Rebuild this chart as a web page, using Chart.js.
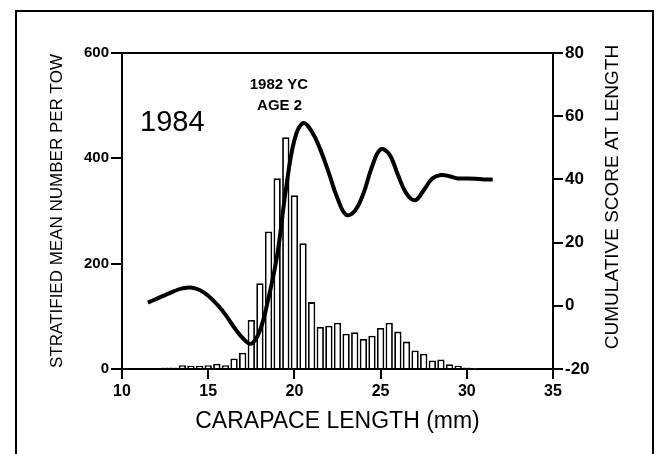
<!DOCTYPE html>
<html><head><meta charset="utf-8">
<script src="https://cdn.jsdelivr.net/npm/chart.js@4/dist/chart.umd.min.js"></script>
<style>html,body{margin:0;padding:0;background:#fff;}#wrap{width:657px;height:454px;}</style>
</head><body><div id="wrap"><canvas id="c" width="657" height="454"></canvas></div>
<script>
// Histogram: carapace length bins (mm) and stratified mean number per tow
const barLengths = [12.0,12.5,13.0,13.5,14.0,14.5,15.0,15.5,16.0,16.5,17.0,17.5,18.0,18.5,19.0,19.5,20.0,20.5,21.0,21.5,22.0,22.5,23.0,23.5,24.0,24.5,25.0,25.5,26.0,26.5,27.0,27.5,28.0,28.5,29.0,29.5,30.0,30.5];
const barCounts  = [2,3,3,7,6,6,7,10,7,20,31,93,163,261,362,440,330,239,127,80,82,88,67,70,57,63,78,88,71,52,35,29,16,18,9,6,3,1];
// Cumulative score at length curve
const curveLengths = [11.5,12.0,12.5,13.0,13.5,14.0,14.5,15.0,15.5,16.0,16.5,17.0,17.5,18.0,18.5,19.0,19.5,20.0,20.5,21.0,21.5,22.0,22.5,23.0,23.5,24.0,24.5,25.0,25.5,26.0,26.5,27.0,27.5,28.0,28.5,29.0,29.5,30.0,30.5,31.0,31.5];
const curveScores  = [1,2.2,3.4,4.6,5.5,5.8,5.0,3.2,0.5,-2.8,-6.8,-10.2,-12,-7.8,2.5,16,36.5,52.5,57.8,55.2,49.5,42,34,28.8,30,35.5,44,49.5,48,41.5,35.5,33.4,36.6,40.3,41.4,41,40.3,40.3,40.2,40,40];
// Tick labels
const xTicks = [10,15,20,25,30,35];
const leftTicks = [0,200,400,600];
const rightTicks = [-20,0,20,40,60,80];
const texts = {
  year: '1984', cohort: '1982 YC', age: 'AGE 2',
  xTitle: 'CARAPACE LENGTH (mm)',
  yTitle: 'STRATIFIED MEAN NUMBER PER TOW',
  y2Title: 'CUMULATIVE SCORE AT LENGTH'
};

const FONT = "'Liberation Sans', Arial, sans-serif";

const decor = {
  id: 'decor',
  beforeDraw(chart) {
    const ctx = chart.ctx;
    ctx.save();
    ctx.fillStyle = '#fff';
    ctx.fillRect(0, 0, chart.width, chart.height);
    ctx.restore();
  },
  afterDraw(chart) {
    const ctx = chart.ctx, a = chart.chartArea;
    const xs = chart.scales.x, ys = chart.scales.y;
    ctx.save();
    ctx.strokeStyle = '#000';
    ctx.lineWidth = 2;
    // outer frame
    ctx.beginPath();
    ctx.moveTo(16, 454); ctx.lineTo(16, 11); ctx.lineTo(653, 11); ctx.lineTo(653, 454);
    ctx.stroke();
    // top border of plot
    ctx.beginPath();
    ctx.moveTo(a.left, a.top); ctx.lineTo(a.right, a.top);
    ctx.stroke();
    ctx.fillStyle = '#000';
    ctx.textAlign = 'center';
    ctx.textBaseline = 'middle';
    ctx.font = '29px ' + FONT;
    ctx.fillText(texts.year, xs.getPixelForValue(12.92), ys.getPixelForValue(468));
    ctx.font = 'bold 15px ' + FONT;
    ctx.fillText(texts.cohort, xs.getPixelForValue(19.1), ys.getPixelForValue(539));
    ctx.fillText(texts.age, xs.getPixelForValue(19.14), ys.getPixelForValue(500));
    // right axis title (reads bottom-to-top)
    ctx.font = '19px ' + FONT;
    ctx.translate(613, (a.top + a.bottom) / 2 - 14);
    ctx.rotate(-Math.PI / 2);
    ctx.fillText(texts.y2Title, 0, 0);
    ctx.restore();
  }
};

new Chart(document.getElementById('c'), {
  type: 'bar',
  data: {
    datasets: [
      {
        type: 'line',
        data: curveLengths.map((x, i) => ({x, y: curveScores[i]})),
        yAxisID: 'y2',
        borderColor: '#000',
        borderWidth: 4,
        pointRadius: 0,
        tension: 0.4,
        fill: false,
        order: 0
      },
      {
        type: 'bar',
        data: barLengths.map((x, i) => ({x, y: barCounts[i]})),
        yAxisID: 'y',
        backgroundColor: '#fff',
        borderColor: '#000',
        borderWidth: 1.8,
        barPercentage: 0.85,
        categoryPercentage: 1,
        order: 1
      }
    ]
  },
  options: {
    responsive: false,
    animation: false,
    devicePixelRatio: 1,
    layout: { padding: { top: 53, left: 0, right: 0, bottom: 0 } },
    plugins: { legend: { display: false }, tooltip: { enabled: false } },
    scales: {
      x: {
        type: 'linear', position: 'bottom', min: 10, max: 35, offset: false,
        afterBuildTicks: s => { s.ticks = xTicks.map(v => ({value: v})); },
        afterFit: s => { s.height = 85; },
        grid: { offset: false, drawOnChartArea: false, drawTicks: true, tickLength: 10, color: '#000', lineWidth: 2 },
        border: { display: true, color: '#000', width: 2 },
        ticks: { color: '#000', padding: 3, maxRotation: 0, font: { family: FONT, size: 16, weight: 'bold' } },
        title: { display: true, text: texts.xTitle, color: '#000', padding: { top: 0, bottom: 19 }, font: { family: FONT, size: 23 } }
      },
      y: {
        type: 'linear', position: 'left', min: 0, max: 600,
        afterBuildTicks: s => { s.ticks = leftTicks.map(v => ({value: v})); },
        afterFit: s => { s.width = 122; },
        grid: { drawOnChartArea: false, drawTicks: true, tickLength: 11, color: '#000', lineWidth: 2 },
        border: { display: true, color: '#000', width: 2 },
        ticks: { color: '#000', padding: 2, font: { family: FONT, size: 15, weight: 'bold' } },
        title: { display: true, text: texts.yTitle, color: '#000', padding: { top: 47, bottom: 0 }, font: { family: FONT, size: 17 } }
      },
      y2: {
        type: 'linear', position: 'right', min: -20, max: 80,
        afterBuildTicks: s => { s.ticks = rightTicks.map(v => ({value: v})); },
        afterFit: s => { s.width = 104; },
        grid: { drawOnChartArea: false, drawTicks: true, tickLength: 10, color: '#000', lineWidth: 2 },
        border: { display: true, color: '#000', width: 2 },
        ticks: { color: '#000', padding: 2, font: { family: FONT, size: 17, weight: 'bold' } },
        title: { display: false }
      }
    }
  },
  plugins: [decor]
});
</script>
</body></html>
